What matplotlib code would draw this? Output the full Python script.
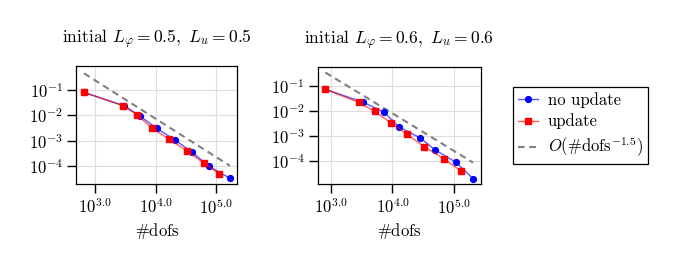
import numpy as np
import matplotlib
matplotlib.use("Agg")
import matplotlib.pyplot as plt
from matplotlib.ticker import FixedLocator, FuncFormatter, NullLocator

plt.rcParams['font.family'] = 'serif'
plt.rcParams['font.serif'] = ['cmr10']
plt.rcParams['mathtext.fontset'] = 'cm'
plt.rcParams['axes.unicode_minus'] = False
plt.rcParams['axes.formatter.use_mathtext'] = True

# ---- data (log10 values) ----
titles = [r'initial $L_\varphi=0.5,\ L_u=0.5$', r'initial $L_\varphi=0.6,\ L_u=0.6$']

left_noupd_logdofs = [2.813, 3.479, 3.733, 4.014, 4.317, 4.598, 4.879, 5.226]
left_noupd_logerr = [-1.104, -1.626, -2.017, -2.512, -2.969, -3.438, -3.999, -4.468]
left_upd_logdofs = [2.813, 3.452, 3.689, 3.942, 4.223, 4.521, 4.796, 5.050]
left_upd_logerr = [-1.104, -1.626, -1.978, -2.512, -2.943, -3.399, -3.881, -4.286]

right_noupd_logdofs = [2.914, 3.530, 3.859, 4.108, 4.454, 4.686, 5.022, 5.308]
right_noupd_logerr = [-1.133, -1.651, -2.036, -2.633, -3.072, -3.537, -4.028, -4.692]
right_upd_logdofs = [2.914, 3.454, 3.714, 3.978, 4.238, 4.514, 4.838, 5.103]
right_upd_logerr = [-1.133, -1.651, -2.010, -2.474, -2.926, -3.417, -3.908, -4.373]

ref_logconst = [3.86, 3.91]
ref_rate = -1.5

legend_labels = ['no update', 'update', r'$O(\#\mathrm{dofs}^{-1.5})$']
xtick_exps = [3.0, 4.0, 5.0]
ytick_exps = [-1, -2, -3, -4]

# ---- layout ----
fig = plt.figure(figsize=(6.76, 2.70), dpi=100)
axes_rects = [[76.3/676, 1-184/270, 161/676, 118.3/270],
              [317.7/676, 1-184/270, 163/676, 117.3/270]]
xlims = [(10**2.686, 10**5.347), (10**2.789, 10**5.430)]
ylims = [(10**-4.69, 10**-0.06), (10**-4.904, 10**-0.23)]

series = [
    (left_noupd_logdofs, left_noupd_logerr, left_upd_logdofs, left_upd_logerr),
    (right_noupd_logdofs, right_noupd_logerr, right_upd_logdofs, right_upd_logerr),
]

FS = 12
handles = None
for i, (nx, ny, ux, uy) in enumerate(series):
    ax = fig.add_axes(axes_rects[i])
    nx = 10**np.array(nx); ny = 10**np.array(ny)
    ux = 10**np.array(ux); uy = 10**np.array(uy)
    h1, = ax.plot(nx, ny, color=(0, 0, 1, 0.65), lw=1.0, marker='o', ms=4.2,
                  mfc='blue', mec='blue', label=legend_labels[0], zorder=3)
    h2, = ax.plot(ux, uy, color=(1, 0, 0, 0.65), lw=1.0, marker='s', ms=3.8,
                  mfc='red', mec='red', label=legend_labels[1], zorder=4)
    rx = np.array([nx[0], nx[-1]])
    ry = 10**ref_logconst[i] * rx**ref_rate
    h3, = ax.plot(rx, ry, color='gray', lw=1.5, ls=(0, (3.2, 2.2)),
                  label=legend_labels[2], zorder=2)
    handles = [h1, h2, h3]
    ax.set_xscale('log'); ax.set_yscale('log')
    ax.set_xlim(*xlims[i]); ax.set_ylim(*ylims[i])
    ax.xaxis.set_major_locator(FixedLocator([10**e for e in xtick_exps]))
    ax.xaxis.set_major_formatter(FuncFormatter(lambda v, p: r'$10^{%.1f}$' % np.log10(v)))
    ax.yaxis.set_major_locator(FixedLocator([10.0**e for e in ytick_exps]))
    ax.yaxis.set_major_formatter(FuncFormatter(lambda v, p: r'$10^{%d}$' % round(np.log10(v))))
    ax.xaxis.set_minor_locator(NullLocator())
    ax.yaxis.set_minor_locator(NullLocator())
    ax.tick_params(axis='both', which='major', direction='out', length=6.5, width=1.0,
                   labelsize=FS, pad=3)
    ax.grid(True, color='#dddddd', lw=0.8)
    ax.set_axisbelow(True)
    for s in ax.spines.values():
        s.set_linewidth(0.9)
    ax.set_xlabel(r'$\#\mathrm{dofs}$', fontsize=FS, labelpad=3)
    ax.set_title(titles[i], fontsize=12.6, pad=16.5)

leg = fig.legend(handles=handles, loc='upper left',
                 bbox_to_anchor=(513/676, 1-87/270), fontsize=FS,
                 frameon=True, fancybox=False, edgecolor='black', framealpha=1,
                 handlelength=1.2, handletextpad=0.6, borderpad=0.3,
                 labelspacing=0.35, borderaxespad=0)
leg.get_frame().set_linewidth(0.9)

fig.savefig('out.png', dpi=100)
